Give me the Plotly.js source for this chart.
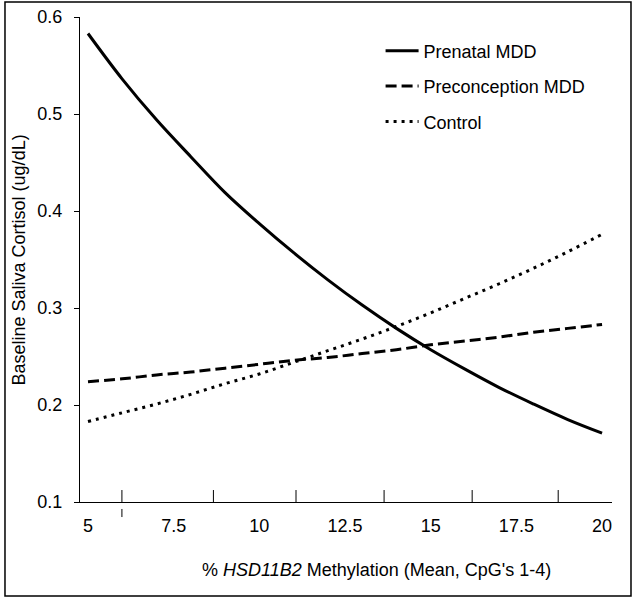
<!DOCTYPE html>
<html>
<head>
<meta charset="utf-8">
<script src="https://cdn.plot.ly/plotly-3.0.1.min.js"></script>
<style>html,body{margin:0;padding:0;background:#fff;}#chart{width:635px;height:599px;}</style>
</head>
<body>
<div id="chart"></div>
<script>
// Methylation (%) sample points
const methylation = [5, 6, 7, 8, 9, 10, 11, 12, 13, 14, 15, 16, 17, 18, 19, 20];
// Baseline saliva cortisol (ug/dL)
const prenatalMDD = [0.583, 0.536, 0.494, 0.456, 0.419, 0.387, 0.357, 0.329, 0.303, 0.279, 0.257, 0.237, 0.218, 0.201, 0.185, 0.171];
const preconceptionMDD = [0.224, 0.227, 0.231, 0.234, 0.238, 0.242, 0.246, 0.249, 0.253, 0.257, 0.262, 0.266, 0.270, 0.275, 0.279, 0.283];
const control = [0.183, 0.192, 0.201, 0.211, 0.222, 0.232, 0.244, 0.256, 0.268, 0.281, 0.295, 0.310, 0.325, 0.341, 0.358, 0.376];
const seriesNames = ['Prenatal MDD', 'Preconception MDD', 'Control'];
const xTickVals = [5, 7.5, 10, 12.5, 15, 17.5, 20];
const xTickText = ['5', '7.5', '10', '12.5', '15', '17.5', '20'];
const yTickVals = [0.1, 0.2, 0.3, 0.4, 0.5, 0.6];
const yTickText = ['0.1', '0.2', '0.3', '0.4', '0.5', '0.6'];
// stray tick marks drawn above the x axis in the original figure
const strayTicks = [5.99, 8.66, 11.07, 13.64, 16.21, 18.72];

const FONT = 'Arial, "Liberation Sans", sans-serif';
const FS = 18;

const traces = [
  {x: methylation, y: prenatalMDD, name: seriesNames[0], legendgroup: 'a', mode: 'lines',
   line: {color: '#000', width: 3, dash: 'solid', shape: 'spline'}},
  {x: methylation, y: preconceptionMDD, name: seriesNames[1], legendgroup: 'b', mode: 'lines',
   line: {color: '#000', width: 3, dash: '11px,5px', shape: 'spline'}},
  {x: methylation, y: control, name: seriesNames[2], legendgroup: 'c', mode: 'lines',
   line: {color: '#000', width: 3, dash: '3px,5px', shape: 'spline'}}
];

const shapes = strayTicks.map(v => ({type: 'line', xref: 'x', yref: 'paper', x0: v, x1: v, y0: 0, y1: 0.0247,
  line: {color: '#000', width: 1}}));
shapes.push({type: 'line', xref: 'x', yref: 'paper', x0: strayTicks[0], x1: strayTicks[0], y0: -0.0144, y1: -0.031,
  line: {color: '#000', width: 1}});
shapes.push({type: 'rect', xref: 'paper', yref: 'paper', x0: -0.141, x1: 1.0357, y0: -0.1938, y1: 1.031,
  line: {color: '#000', width: 1.5}, fillcolor: 'rgba(0,0,0,0)'});

const layout = {
  width: 635, height: 599,
  margin: {l: 80, r: 23, t: 17, b: 97},
  paper_bgcolor: '#fff', plot_bgcolor: '#fff',
  font: {family: FONT, size: FS, color: '#000'},
  showlegend: true,
  legend: {x: 0.565, y: 0.968, xanchor: 'left', yanchor: 'top', bgcolor: 'rgba(0,0,0,0)',
           font: {family: FONT, size: FS, color: '#000'}, tracegroupgap: 9, itemwidth: 33},
  xaxis: {range: [4.767, 20.29], showgrid: false, zeroline: false, showline: true, linecolor: '#000', linewidth: 1,
          ticks: '', tickvals: xTickVals, ticktext: xTickText, ticklabelstandoff: 7,
          tickfont: {family: FONT, size: FS, color: '#000'}, fixedrange: true},
  yaxis: {range: [0.1, 0.6], showgrid: false, zeroline: false, showline: true, linecolor: '#000', linewidth: 1,
          ticks: 'outside', ticklen: 5, tickcolor: '#000', tickvals: yTickVals, ticktext: yTickText,
          ticklabelstandoff: 8, tickfont: {family: FONT, size: FS, color: '#000'}, fixedrange: true},
  shapes: shapes,
  annotations: [
    {xref: 'paper', yref: 'paper', x: 0.558, y: -0.140, xanchor: 'center', yanchor: 'middle', showarrow: false,
     text: '% <i>HSD11B2</i> Methylation (Mean, CpG\'s 1-4)', font: {family: FONT, size: FS, color: '#000'}},
    {xref: 'paper', yref: 'paper', x: -0.1147, y: 0.5, xanchor: 'center', yanchor: 'middle', showarrow: false,
     textangle: -90, text: 'Baseline Saliva Cortisol (ug/dL)', font: {family: FONT, size: FS, color: '#000'}}
  ]
};

Plotly.newPlot('chart', traces, layout, {displayModeBar: false, staticPlot: true});
</script>
</body>
</html>
